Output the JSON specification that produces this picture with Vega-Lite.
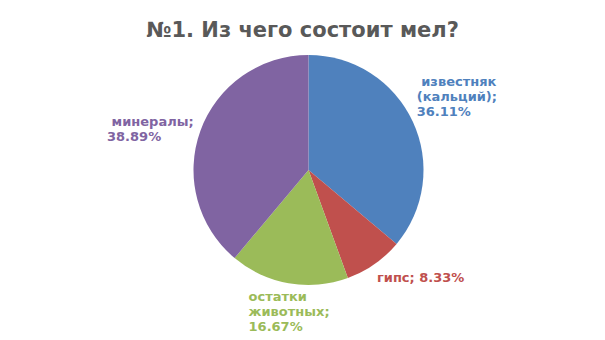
{
  "$schema": "https://vega.github.io/schema/vega-lite/v6.json",
  "width": 593,
  "height": 260,
  "autosize": "none",
  "padding": {"left": 12, "top": 40, "right": 0, "bottom": 40},
  "background": "white",
  "title": {"text": "№1. Из чего состоит мел?", "font": "DejaVu Sans", "fontSize": 21, "fontWeight": "bold", "color": "#595959", "offset": -1, "dx": -6},
  "config": {"view": {"stroke": null}},
  "data": {"values": [
    {"n": 1, "cat": "известняк (кальций)", "value": 36.11, "label": "\u200b\u00a0известняк\n(кальций);\n36.11%"},
    {"n": 2, "cat": "гипс", "value": 8.33, "label": "гипс; 8.33%"},
    {"n": 3, "cat": "остатки животных", "value": 16.67, "label": "остатки\nживотных;\n16.67%"},
    {"n": 4, "cat": "минералы", "value": 38.89, "label": "\u200b\u00a0минералы;\n38.89%"}
  ]},
  "encoding": {
    "theta": {"field": "value", "type": "quantitative", "stack": true},
    "order": {"field": "n", "type": "quantitative"},
    "color": {"field": "cat", "type": "nominal", "legend": null,
      "scale": {"domain": ["известняк (кальций)", "гипс", "остатки животных", "минералы"], "range": ["#4F81BD", "#C0504D", "#9BBB59", "#8064A2"]}}
  },
  "layer": [
    {"mark": {"type": "arc", "outerRadius": 115}},
    {"mark": {"type": "text", "radius": 115, "align": "left", "baseline": "alphabetic", "dx": 4, "dy": -35, "font": "DejaVu Sans", "fontSize": 13, "fontWeight": "bold", "lineHeight": 15, "lineBreak": "\n"},
     "encoding": {"text": {"condition": {"test": "datum.n === 1", "field": "label"}, "value": ""}}},
    {"mark": {"type": "text", "radius": 115, "align": "left", "baseline": "alphabetic", "dx": 2.5, "dy": 18, "font": "DejaVu Sans", "fontSize": 13, "fontWeight": "bold", "lineHeight": 15, "lineBreak": "\n"},
     "encoding": {"text": {"condition": {"test": "datum.n === 2", "field": "label"}, "value": ""}}},
    {"mark": {"type": "text", "radius": 115, "align": "left", "baseline": "alphabetic", "dx": -40, "dy": 18, "font": "DejaVu Sans", "fontSize": 13, "fontWeight": "bold", "lineHeight": 15, "lineBreak": "\n"},
     "encoding": {"text": {"condition": {"test": "datum.n === 3", "field": "label"}, "value": ""}}},
    {"mark": {"type": "text", "radius": 115, "align": "left", "baseline": "alphabetic", "dx": -93.4, "dy": -4.7, "font": "DejaVu Sans", "fontSize": 13, "fontWeight": "bold", "lineHeight": 15, "lineBreak": "\n"},
     "encoding": {"text": {"condition": {"test": "datum.n === 4", "field": "label"}, "value": ""}}}
  ]
}
